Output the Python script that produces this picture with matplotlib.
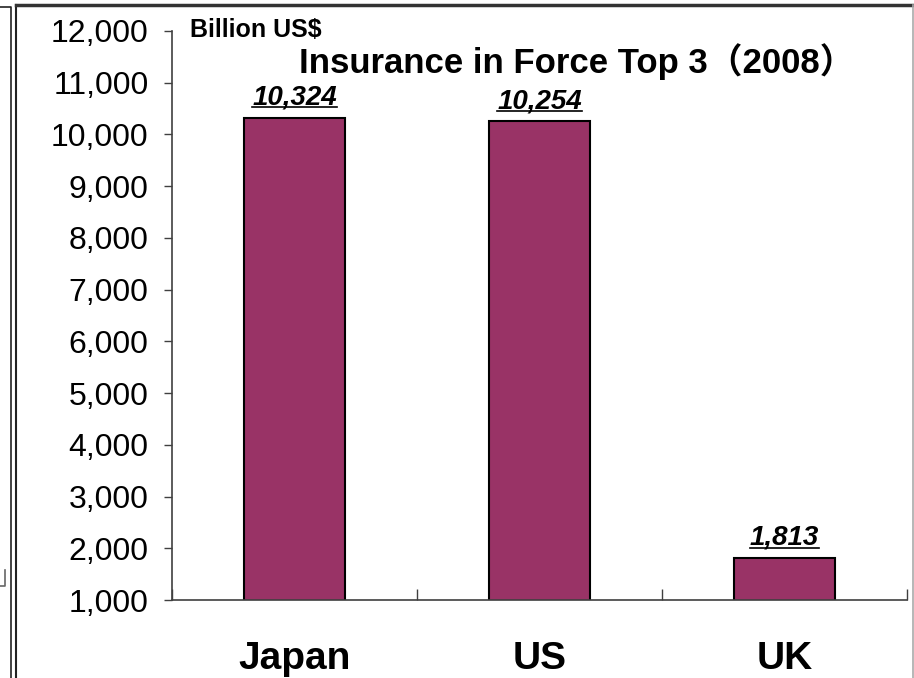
import matplotlib
matplotlib.use("Agg")
import matplotlib.pyplot as plt
from matplotlib.lines import Line2D

countries = ["Japan", "US", "UK"]
in_force = [10324, 10254, 1813]
value_labels = ["10,324", "10,254", "1,813"]
y_ticks = [1000, 2000, 3000, 4000, 5000, 6000, 7000, 8000, 9000, 10000, 11000, 12000]
y_tick_labels = ["1,000", "2,000", "3,000", "4,000", "5,000", "6,000",
                 "7,000", "8,000", "9,000", "10,000", "11,000", "12,000"]
unit_label = "Billion US$"
title = "Insurance in Force Top 3（2008）"

W, H = 914, 678
fig = plt.figure(figsize=(W / 100, H / 100), dpi=100)
ax = fig.add_axes([172 / W, 1 - 600 / H, (907 - 172) / W, (600 - 31) / H])

bar_color = "#993366"
x = range(len(countries))
ax.bar(x, in_force, width=0.41, color=bar_color, edgecolor="black", linewidth=1.5)

ax.set_xlim(-0.5, 2.5)
ax.set_ylim(1000, 12000)
ax.set_yticks(y_ticks)
ax.set_yticklabels(y_tick_labels, fontsize=23, family="Liberation Sans")
ax.set_xticks([-0.5, 0.5, 1.5, 2.5])
ax.set_xticklabels([])
ax.tick_params(axis="y", direction="out", length=6, width=1, colors="#404040",
               labelcolor="black", pad=11)
ax.tick_params(axis="x", direction="in", length=8, width=1, colors="#404040")
for s in ("top", "right"):
    ax.spines[s].set_visible(False)
for s in ("left", "bottom"):
    ax.spines[s].set_color("#404040")
    ax.spines[s].set_linewidth(1.2)

# category names under the axis
for i, name in enumerate(countries):
    ax.text(i, -0.104, name, transform=ax.get_xaxis_transform(), ha="center",
            va="center", fontsize=28, fontweight="bold", family="Liberation Sans")

# value labels over bars, underlined
value_texts = []
for i, (v, lab) in enumerate(zip(in_force, value_labels)):
    t = ax.text(i, v + 140, lab, ha="center", va="bottom", fontsize=20,
                fontweight="bold", fontstyle="italic", family="Liberation Sans")
    value_texts.append(t)

fig.text(190 / W, 1 - 30 / H, unit_label, ha="left", va="center", fontsize=18,
         fontweight="bold", family="Liberation Sans")
fig.text(577 / W, 1 - 62 / H, title, ha="center", va="center", fontsize=25,
         fontweight="bold", family=["Liberation Sans", "Noto Sans CJK JP"])

fig.canvas.draw()
renderer = fig.canvas.get_renderer()
for t in value_texts:
    bb = t.get_window_extent(renderer)
    yy = bb.y0 + 3
    fig.add_artist(Line2D([bb.x0 / W, bb.x1 / W], [yy / H, yy / H],
                          color="black", linewidth=1.2))

# surrounding frame lines
def fline(xs, ys, color="black", lw=1.5):
    fig.add_artist(Line2D([v / W for v in xs], [1 - v / H for v in ys],
                          color=color, linewidth=lw))

fline([0, 10.5, 10.5], [7, 7, H], color="#222222", lw=1.2)
fline([16, 16], [H, 5], color="#222222", lw=1.5)
fline([16, 913], [5, 5], color="#333333", lw=2.5)
fline([913, 913], [5, H], color="#aaaaaa", lw=1.2)
fline([0, 5, 5], [586, 586, 570], color="#666666", lw=1.2)

fig.savefig("out.png", dpi=100)
